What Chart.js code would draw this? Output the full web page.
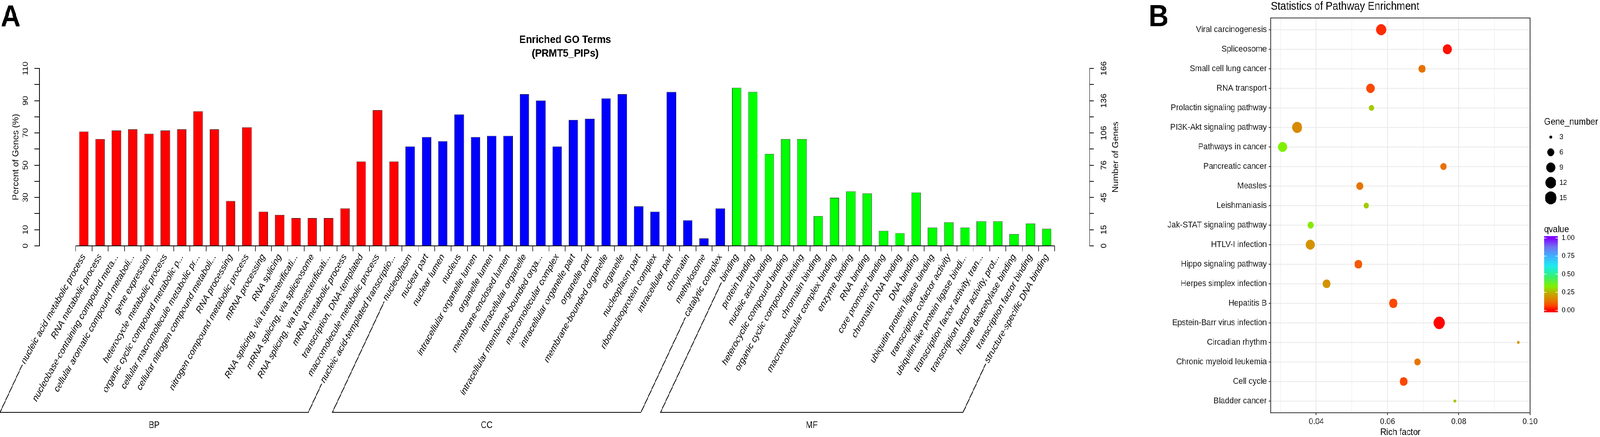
<!DOCTYPE html>
<html><head><meta charset="utf-8">
<script src="https://cdn.jsdelivr.net/npm/chart.js@4.4.1/dist/chart.umd.min.js"></script>
<style>
html,body{margin:0;padding:0;background:#fff;overflow:hidden;}
#wrap{position:absolute;left:0;top:0;width:4549px;height:1118px;transform-origin:0 0;}
#ca{position:absolute;left:0;top:0;}
#cb{position:absolute;left:3210px;top:0;}
</style></head><body>
<div id="wrap">
<canvas id="ca" width="3210" height="1118" style="width:3210px;height:1118px"></canvas>
<canvas id="cb" width="1339" height="1118" style="width:1339px;height:1118px"></canvas>
</div>
<script>
// ---------------- Panel A data ----------------
const groups = ['BP', 'CC', 'MF'];
const bpLabels = ['nucleic acid metabolic process','RNA metabolic process','nucleobase-containing compound meta...','cellular aromatic compound metaboli...','gene expression','heterocycle metabolic process','organic cyclic compound metabolic p...','cellular macromolecule metabolic pr...','cellular nitrogen compound metaboli...','RNA processing','nitrogen compound metabolic process','mRNA processing','RNA splicing','RNA splicing, via transesterificati...','mRNA splicing, via spliceosome','RNA splicing, via transesterificati...','mRNA metabolic process','transcription, DNA-templated','macromolecule metabolic process','nucleic acid-templated transcriptio...'];
const ccLabels = ['nucleoplasm','nuclear part','nuclear lumen','nucleus','intracellular organelle lumen','organelle lumen','membrane-enclosed lumen','intracellular organelle','intracellular membrane-bounded orga...','macromolecular complex','intracellular organelle part','organelle part','membrane-bounded organelle','organelle','nucleoplasm part','ribonucleoprotein complex','intracellular part','chromatin','methylosome','catalytic complex'];
const mfLabels = ['binding','protein binding','nucleic acid binding','heterocyclic compound binding','organic cyclic compound binding','chromatin binding','macromolecular complex binding','enzyme binding','RNA binding','core promoter binding','chromatin DNA binding','DNA binding','ubiquitin protein ligase binding','transcription cofactor activity','ubiquitin-like protein ligase bindi...','transcription factor activity, tran...','transcription factor activity, prot...','histone deacetylase binding','transcription factor binding','structure-specific DNA binding'];
const bpPercent = [70.9,66.2,71.5,72.2,69.5,71.5,72.2,83.4,72.2,27.8,73.5,21.2,19.2,17.2,17.2,17.2,23.2,52.3,84.1,52.3];
const ccPercent = [61.6,67.5,64.9,81.5,67.5,68.2,68.2,94.0,90.1,61.6,78.1,78.8,91.4,94.0,24.5,21.2,95.4,15.9,4.6,23.2];
const mfPercent = [98.0,95.4,57.0,66.2,66.2,18.5,29.8,33.8,32.5,9.3,7.9,33.1,11.3,14.6,11.3,15.2,15.2,7.3,13.9,10.6];
const leftTickLabels  = ['0','10','','30','','50','','70','','90','','110'];
const rightTickLabels = ['0','15','','45','','76','','106','','136','','166'];
const totalGenes = 151;

// ---------------- Panel B data ----------------
const pathways = ['Viral carcinogenesis','Spliceosome','Small cell lung cancer','RNA transport','Prolactin signaling pathway','PI3K-Akt signaling pathway','Pathways in cancer','Pancreatic cancer','Measles','Leishmaniasis','Jak-STAT signaling pathway','HTLV-I infection','Hippo signaling pathway','Herpes simplex infection','Hepatitis B','Epstein-Barr virus infection','Circadian rhythm','Chronic myeloid leukemia','Cell cycle','Bladder cancer'];
const richFactor = [0.0582,0.0768,0.0697,0.0552,0.0555,0.0346,0.0305,0.0757,0.0522,0.0540,0.0384,0.0383,0.0518,0.0429,0.0616,0.0745,0.0967,0.0684,0.0645,0.0789];
const geneNumber = [11,9,6,8,4,11,9,5,6,4,5,9,7,7,8,14,3,5,7,3];
const qValue = [0.04,0.015,0.12,0.07,0.28,0.17,0.33,0.12,0.13,0.28,0.32,0.19,0.09,0.19,0.07,0.005,0.20,0.13,0.07,0.27];
const sizeBreaks = [3,6,9,12,15];
const qBreaks = [0,0.25,0.5,0.75,1];
const qBreakLabels = ['0.00','0.25','0.50','0.75','1.00'];
const xTickValuesB = [0.03,0.04,0.05,0.06,0.07,0.08,0.09,0.10];
const xTickLabelsB = ['','0.04','','0.06','','0.08','','0.10'];
const qStops  = [0,0.06,0.12,0.20,0.25,0.33,0.45,0.55,0.62,0.75,0.88,1];
const qColors = ['#ff0000','#ff4000','#e87000','#d09800','#b8b400','#80f000','#40f060','#20f0c0','#20e8f0','#40b0ff','#7070f0','#8000ff'];

// ---------------- fit page to viewport ----------------
(function () {
  const W = 4549, H = 1118;
  const vw = window.innerWidth || document.documentElement.clientWidth || W;
  const vh = window.innerHeight || document.documentElement.clientHeight || H;
  const sx = vw / W, sy = vh / H;
  if (Math.abs(sx - 1) > 0.002 || Math.abs(sy - 1) > 0.002) {
    document.getElementById('wrap').style.transform = 'scale(' + sx + ',' + sy + ')';
  }
})();

// ---------------- helpers ----------------
const F = '"Liberation Sans", Arial, Helvetica, sans-serif';
Chart.defaults.font.family = F;
Chart.defaults.color = '#000';
const groupColors = ['#ff0000', '#0000ff', '#00ff00'];
const goLabels = bpLabels.concat(ccLabels, mfLabels);
const goValues = bpPercent.concat(ccPercent, mfPercent);
const goColors = bpLabels.map(() => groupColors[0]).concat(ccLabels.map(() => groupColors[1]), mfLabels.map(() => groupColors[2]));
const groupRanges = [[0, bpLabels.length - 1], [bpLabels.length, bpLabels.length + ccLabels.length - 1], [bpLabels.length + ccLabels.length, goLabels.length - 1]];

function hex2rgb(h) { return [parseInt(h.slice(1,3),16), parseInt(h.slice(3,5),16), parseInt(h.slice(5,7),16)]; }
function qColor(q) {
  for (let i = 1; i < qStops.length; i++) {
    if (q <= qStops[i]) {
      const t = (q - qStops[i-1]) / (qStops[i] - qStops[i-1]);
      const a = hex2rgb(qColors[i-1]), b = hex2rgb(qColors[i]);
      return 'rgb(' + a.map((v, k) => Math.round(v + (b[k] - v) * t)).join(',') + ')';
    }
  }
  return qColors[qColors.length - 1];
}
function sizeOf(n) { return 3.7 + 12.8 * Math.sqrt(Math.max(0, (n - 3) / 12)); }

// ---------------- Panel A ----------------
const ROT = 58, SLANT = 62.5, XTL = 14, XPAD = 2, XFS = 24;
const decorA = {
  id: 'decorA',
  afterDraw(chart) {
    const { ctx, chartArea: ca, scales: { x, y } } = chart;
    const y0 = y.getPixelForValue(0);
    ctx.save();
    ctx.strokeStyle = '#000'; ctx.fillStyle = '#000'; ctx.lineWidth = 2;
    ctx.beginPath();
    ctx.moveTo(x.getPixelForValue(-0.5), y0);
    ctx.lineTo(x.getPixelForValue(goLabels.length - 0.5), y0);
    ctx.stroke();
    const r = ROT * Math.PI / 180, s = SLANT * Math.PI / 180, lh = XFS * 1.2;
    ctx.font = 'italic ' + XFS + 'px ' + F;
    const startOf = i => {
      const w = ctx.measureText(goLabels[i]).width;
      const px = x.getPixelForValue(i);
      const ey = y0 + XTL + XPAD + lh / 2 * Math.cos(r);
      return [px - w * Math.cos(r), ey + w * Math.sin(r)];
    };
    const baseY = ca.bottom + 426, labY = ca.bottom + 460;
    groupRanges.forEach((rg, g) => {
      const [sx, sy] = startOf(rg[0]);
      const [ex, ey] = startOf(rg[1]);
      const t0 = 5;
      const lx = sx - (baseY - sy) / Math.tan(s);
      const rx = ex - (baseY - ey) / Math.tan(s);
      ctx.beginPath();
      ctx.moveTo(sx - t0 * Math.cos(s), sy + t0 * Math.sin(s));
      ctx.lineTo(lx, baseY);
      ctx.lineTo(rx, baseY);
      ctx.lineTo(ex - t0 * Math.cos(s), ey + t0 * Math.sin(s));
      ctx.stroke();
      ctx.font = '23px ' + F;
      ctx.textAlign = 'center'; ctx.textBaseline = 'middle';
      ctx.fillText(groups[g], (lx + rx) / 2, labY);
      ctx.font = 'italic ' + XFS + 'px ' + F;
    });
    ctx.save();
    ctx.translate(ca.right + 75, (ca.top + ca.bottom) / 2);
    ctx.rotate(-Math.PI / 2);
    ctx.font = '23px ' + F; ctx.textAlign = 'center'; ctx.textBaseline = 'middle';
    ctx.fillText('Number of Genes', 0, 0);
    ctx.restore();
    ctx.font = 'bold 78px ' + F; ctx.textAlign = 'left'; ctx.textBaseline = 'alphabetic';
    ctx.fillText('A', 2, 68);
    ctx.restore();
  }
};

new Chart(document.getElementById('ca'), {
  type: 'bar',
  data: { datasets: [{ data: goValues.map((v, i) => ({ x: i, y: v })), backgroundColor: goColors, borderColor: '#000', borderWidth: 1, barPercentage: 0.575, categoryPercentage: 1 }] },
  options: {
    responsive: false, animation: false, devicePixelRatio: 1, events: [],
    layout: { padding: { left: 20, right: 16, top: 0, bottom: 0 } },
    plugins: {
      legend: { display: false }, tooltip: { enabled: false },
      title: { display: true, text: ['Enriched GO Terms', '(PRMT5_PIPs)'], font: { size: 28, weight: 'bold', lineHeight: 1.25 }, color: '#000', padding: { top: 84.5, bottom: 20.5 } }
    },
    scales: {
      x: {
        type: 'linear', min: -2.72, max: 61.63, offset: false, bounds: 'data',
        afterBuildTicks: sc => { sc.ticks = goLabels.map((_, i) => ({ value: i })); },
        afterFit: sc => { sc.height = 489; },
        grid: { display: true, drawOnChartArea: false, drawTicks: true, tickLength: XTL, offset: true, color: '#000', lineWidth: 1.5 },
        border: { display: false },
        ticks: { autoSkip: false, minRotation: ROT, maxRotation: ROT, padding: XPAD, font: { size: XFS, style: 'italic' }, color: '#000', callback: (v, i) => goLabels[i] }
      },
      y: {
        position: 'left', min: 0, max: 110, bounds: 'data',
        afterBuildTicks: sc => { sc.ticks = leftTickLabels.map((_, i) => ({ value: i * 10 })); },
        afterFit: sc => { sc.width = 92; },
        grid: { drawOnChartArea: false, drawTicks: true, tickLength: 14, color: '#000', lineWidth: 2 },
        border: { display: true, color: '#000', width: 2 },
        ticks: { minRotation: 90, maxRotation: 90, crossAlign: 'center', padding: 8, font: { size: 22 }, color: '#000', callback: (v, i) => leftTickLabels[i] },
        title: { display: true, text: 'Percent of Genes (%)', font: { size: 23 }, color: '#000', padding: { top: 12, bottom: 0 } }
      },
      y2: {
        position: 'right', min: 0, max: totalGenes * 1.1, bounds: 'data',
        afterBuildTicks: sc => { sc.ticks = rightTickLabels.map((_, i) => ({ value: i * totalGenes * 0.1 })); },
        afterFit: sc => { sc.width = 96; },
        grid: { drawOnChartArea: false, drawTicks: true, tickLength: 12, color: '#000', lineWidth: 2 },
        border: { display: true, color: '#000', width: 2 },
        ticks: { minRotation: 90, maxRotation: 90, crossAlign: 'center', padding: 11, font: { size: 22 }, color: '#000', callback: (v, i) => rightTickLabels[i] }
      }
    }
  },
  plugins: [decorA]
});

// ---------------- Panel B ----------------
const decorB = {
  id: 'decorB',
  afterDraw(chart) {
    const { ctx, chartArea: ca } = chart;
    ctx.save();
    ctx.strokeStyle = '#333'; ctx.lineWidth = 2;
    ctx.strokeRect(ca.left, ca.top, ca.right - ca.left, ca.bottom - ca.top);
    ctx.fillStyle = '#000';
    ctx.textAlign = 'left'; ctx.textBaseline = 'middle';
    ctx.font = '29px ' + F;
    ctx.fillText('Statistics of Pathway Enrichment', ca.left, 17);
    ctx.font = 'bold 78px ' + F; ctx.textBaseline = 'alphabetic';
    ctx.fillText('B', 56, 67);
    const lx = ca.right + 40;
    ctx.textBaseline = 'middle';
    ctx.font = '24px ' + F;
    ctx.fillText('Gene_number', lx, 312.5);
    ctx.font = '19px ' + F;
    sizeBreaks.forEach((n, k) => {
      const cy = 350.7 + k * 38.9;
      ctx.beginPath(); ctx.arc(lx + 19, cy, sizeOf(n), 0, Math.PI * 2); ctx.fill();
      ctx.fillText(String(n), lx + 44, cy);
    });
    ctx.font = '24px ' + F;
    ctx.fillText('qvalue', lx, 587);
    const bx = lx, bw = 39, y0 = 794, y1 = 609;
    const grad = ctx.createLinearGradient(0, y0, 0, y1);
    qStops.forEach((s, i) => grad.addColorStop(s, qColors[i]));
    ctx.fillStyle = grad;
    ctx.fillRect(bx, y1 - 5, bw, (y0 - y1) + 10);
    ctx.strokeStyle = '#fff'; ctx.lineWidth = 1.5;
    ctx.fillStyle = '#000'; ctx.font = '19px ' + F;
    qBreaks.forEach((q, k) => {
      const yy = y0 - q * (y0 - y1);
      ctx.beginPath(); ctx.moveTo(bx, yy); ctx.lineTo(bx + 7, yy); ctx.moveTo(bx + bw - 7, yy); ctx.lineTo(bx + bw, yy); ctx.stroke();
      ctx.fillText(qBreakLabels[k], bx + 50, yy);
    });
    ctx.restore();
  }
};

new Chart(document.getElementById('cb'), {
  type: 'scatter',
  data: { datasets: [{ data: richFactor.map((v, i) => ({ x: v, y: i })), pointRadius: geneNumber.map(sizeOf), pointHoverRadius: geneNumber.map(sizeOf), pointBackgroundColor: qValue.map(qColor), pointBorderWidth: 0, pointBorderColor: 'rgba(0,0,0,0)' }] },
  options: {
    responsive: false, animation: false, devicePixelRatio: 1, events: [],
    layout: { padding: { left: 0, right: 199, top: 46, bottom: 0 } },
    plugins: { legend: { display: false }, tooltip: { enabled: false } },
    scales: {
      x: {
        type: 'linear', min: 0.0272, max: 0.1, bounds: 'data',
        afterBuildTicks: sc => { sc.ticks = xTickValuesB.map(v => ({ value: v })); },
        afterFit: sc => { sc.height = 62; },
        grid: { color: '#ebebeb', lineWidth: c => (xTickLabelsB[c.index] ? 2.2 : 1.1), tickColor: c => (xTickLabelsB[c.index] ? '#333' : 'rgba(0,0,0,0)'), tickLength: 6, tickWidth: 2 },
        border: { display: true, color: '#333', width: 2 },
        ticks: { autoSkip: false, minRotation: 0, maxRotation: 0, padding: 4, font: { size: 22 }, color: '#1a1a1a', callback: (v, i) => xTickLabelsB[i] },
        title: { display: true, text: 'Rich factor', font: { size: 24, lineHeight: 1 }, color: '#000', padding: { top: 0, bottom: 0 } }
      },
      y: {
        type: 'linear', min: -0.6, max: 19.6, reverse: true, bounds: 'data',
        afterBuildTicks: sc => { sc.ticks = pathways.map((_, i) => ({ value: i })); },
        afterFit: sc => { sc.width = 403; },
        grid: { color: '#ebebeb', lineWidth: 2.2, tickColor: '#333', tickLength: 6, tickWidth: 2 },
        border: { display: true, color: '#333', width: 2 },
        ticks: { autoSkip: false, padding: 5.5, font: { size: 22.5 }, color: '#1a1a1a', callback: (v, i) => pathways[i] }
      }
    }
  },
  plugins: [decorB]
});
</script>
</body></html>
